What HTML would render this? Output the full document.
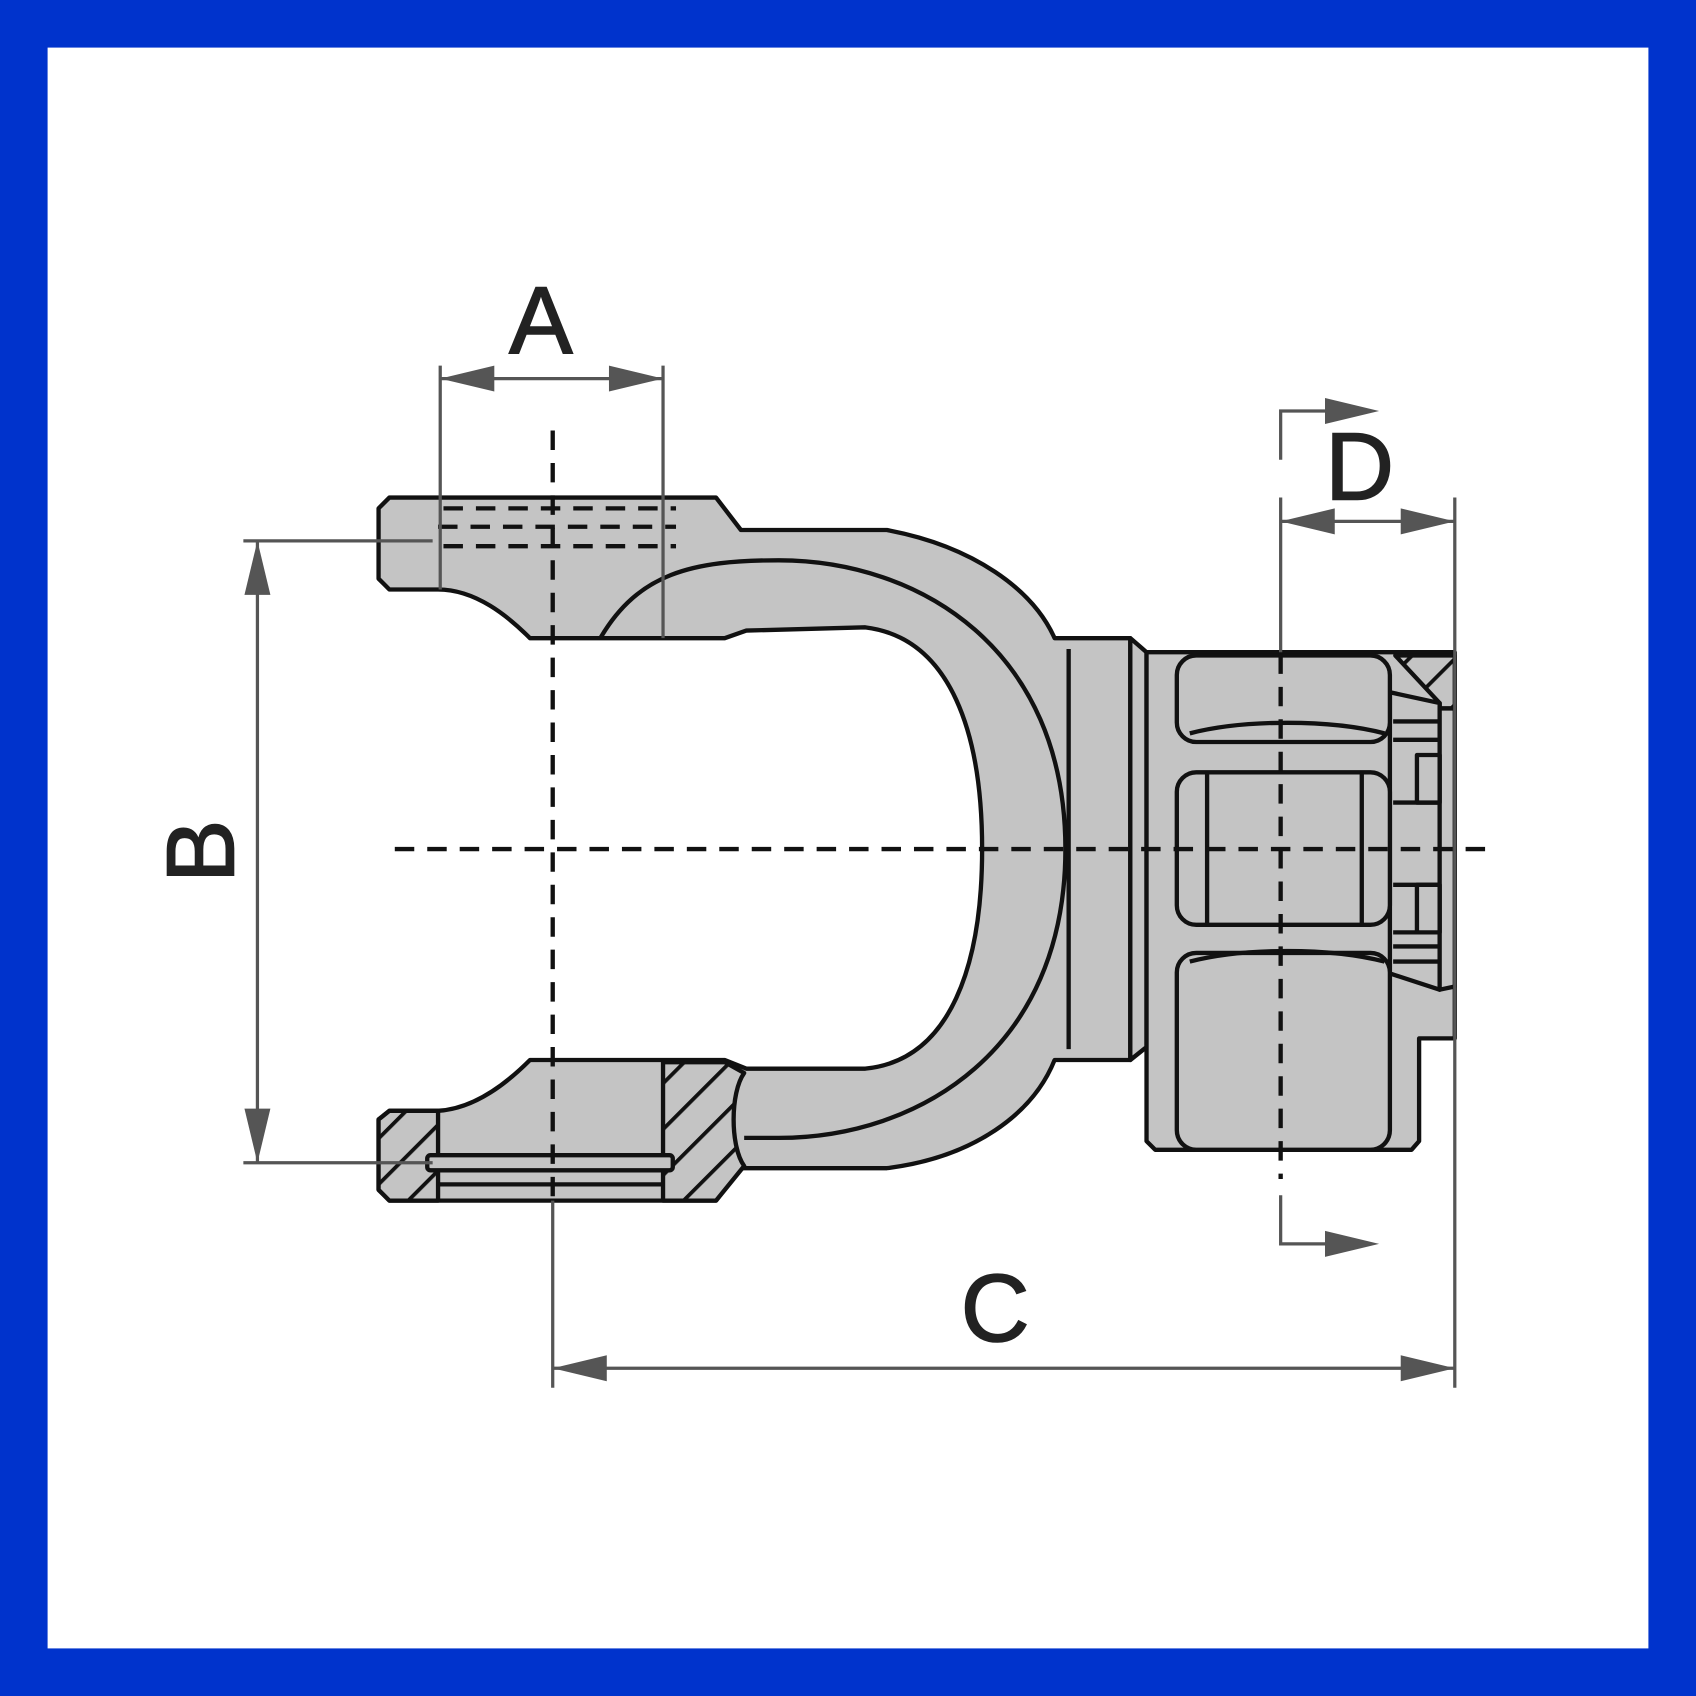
<!DOCTYPE html>
<html><head><meta charset="utf-8"><style>html,body{margin:0;padding:0;background:#fff}svg{display:block}</style></head>
<body>
<svg width="1696" height="1696" viewBox="0 0 1568 1568" xmlns="http://www.w3.org/2000/svg">
<rect x="0" y="0" width="1568" height="1568" fill="#0033cc"/>
<rect x="44" y="44" width="1480" height="1480" fill="#fff"/>
<defs>
<pattern id="h" patternUnits="userSpaceOnUse" width="30" height="30" patternTransform="rotate(45)">
<rect width="30" height="30" fill="#c4c4c4"/><line x1="0" y1="0" x2="0" y2="30" stroke="#111" stroke-width="7"/>
</pattern>
</defs>
<g stroke="#111" stroke-width="4" stroke-linejoin="round" fill="#c4c4c4">
<path d="M360,460 L662,460 L685,490 L820,490 C900,505 955,545 975,590 L1045,590 L1045,980 L975,980 C955,1030 900,1070 820,1080 L685,1080 L662,1110 L360,1110 L350,1100 L350,1035 L360,1027 L405,1027 C440,1025 470,1000 490,980 L670,980 L690,988 L800,988 C880,980 908,890 908,785 C908,680 880,590 800,580 L690,583 L670,590 L490,590 C470,570 440,545 405,545 L360,545 L350,535 L350,470 Z"/>
<path d="M555,590 C590,530 640,518 720,518 C850,518 985,600 985,785 C985,970 850,1052 720,1052 L688,1052" fill="none"/>
<line x1="988" y1="600" x2="988" y2="970"/>
<path d="M360,1027 L405,1027 L405,1110 L360,1110 L350,1100 L350,1035 Z" fill="url(#h)"/>
<path d="M613,982 L670,982 L688,992 C675,1010 675,1060 688,1078 L662,1110 L613,1110 Z" fill="url(#h)"/>
<rect x="395" y="1068" width="227" height="14" rx="3"/>
<line x1="405" y1="1095" x2="613" y2="1095"/>
<path d="M1045,590 L1060,603 L1060,968 L1045,980 Z"/>
<path d="M1060,603 L1345,603 L1345,960 L1312,960 L1312,1055 L1305,1063 L1068,1063 L1060,1055 Z"/>
<path d="M1290,606 L1345,606 L1345,655 L1331,655 L1331,650 L1290,606 Z" fill="url(#h)"/>
<path d="M1285,640 L1331,650 L1331,915 L1285,900 Z"/>
<path d="M1331,655 L1345,655 L1345,912 L1331,915 Z"/>
<line x1="1288" y1="667" x2="1331" y2="667"/>
<line x1="1288" y1="684" x2="1331" y2="684"/>
<line x1="1288" y1="742" x2="1331" y2="742"/>
<line x1="1288" y1="818" x2="1331" y2="818"/>
<line x1="1288" y1="862" x2="1331" y2="862"/>
<line x1="1288" y1="875" x2="1331" y2="875"/>
<line x1="1288" y1="889" x2="1331" y2="889"/>
<rect x="1310" y="698" width="21" height="44"/>
<rect x="1310" y="818" width="21" height="44"/>
<rect x="1088" y="606" width="197" height="80" rx="18"/>
<path d="M1100,678 C1150,665 1230,665 1280,678" fill="none"/>
<rect x="1088" y="714" width="197" height="141" rx="18"/>
<line x1="1116" y1="714" x2="1116" y2="855"/>
<line x1="1259" y1="714" x2="1259" y2="855"/>
<rect x="1088" y="881" width="197" height="182" rx="18"/>
<path d="M1100,889 C1150,876 1230,876 1280,889" fill="none"/>
</g>
<g stroke="#111" stroke-width="4" stroke-dasharray="18,12" fill="none">
<line x1="410" y1="470" x2="625" y2="470"/>
<line x1="405" y1="487" x2="625" y2="487"/>
<line x1="410" y1="505" x2="625" y2="505"/>
<line x1="511" y1="398" x2="511" y2="1110"/>
<line x1="365" y1="785" x2="1385" y2="785"/>
<line x1="1184" y1="605" x2="1184" y2="1090"/>
</g>
<g stroke="#555" stroke-width="3" fill="none">
<line x1="407" y1="338" x2="407" y2="545"/>
<line x1="613" y1="338" x2="613" y2="590"/>
<line x1="407" y1="350" x2="613" y2="350"/>
<line x1="225" y1="500" x2="400" y2="500"/>
<line x1="225" y1="1075" x2="400" y2="1075"/>
<line x1="238" y1="500" x2="238" y2="1075"/>
<line x1="511" y1="1110" x2="511" y2="1283"/>
<line x1="1345" y1="460" x2="1345" y2="1283"/>
<line x1="511" y1="1265" x2="1345" y2="1265"/>
<line x1="1184" y1="460" x2="1184" y2="603"/>
<line x1="1184" y1="482" x2="1345" y2="482"/>
<polyline points="1184,425 1184,380 1240,380"/>
<polyline points="1184,1105 1184,1150 1240,1150"/>
</g>
<g fill="#555">
<polygon points="407,350 457,338 457,362"/>
<polygon points="613,350 563,338 563,362"/>
<polygon points="238,500 226,550 250,550"/>
<polygon points="238,1075 226,1025 250,1025"/>
<polygon points="511,1265 561,1253 561,1277"/>
<polygon points="1345,1265 1295,1253 1295,1277"/>
<polygon points="1184,482 1234,470 1234,494"/>
<polygon points="1345,482 1295,470 1295,494"/>
<polygon points="1275,380 1225,368 1225,392"/>
<polygon points="1275,1150 1225,1138 1225,1162"/>
</g>
<g font-family="Liberation Sans, sans-serif" font-size="88" fill="#222" stroke="#222" stroke-width="1.5" text-anchor="middle">
<text x="500" y="327">A</text>
<text x="920" y="1240">C</text>
<text x="1257" y="462">D</text>
<text transform="translate(216,787) rotate(-90)">B</text>
</g>
</svg>
</body></html>
